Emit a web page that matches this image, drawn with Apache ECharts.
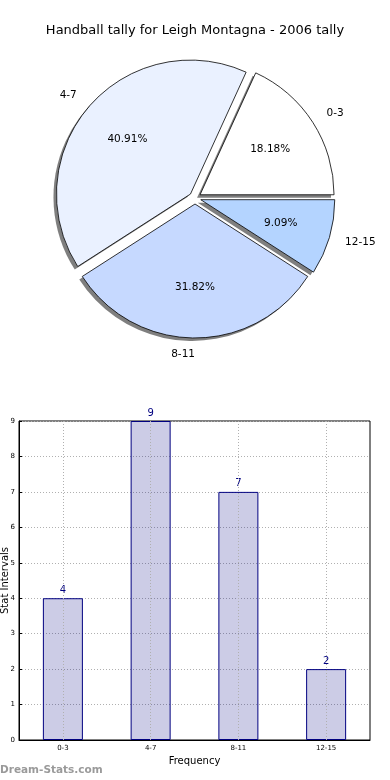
<!DOCTYPE html>
<html>
<head>
<meta charset="utf-8">
<script src="https://cdn.jsdelivr.net/npm/echarts@6/dist/echarts.min.js"></script>
<style>
html,body{margin:0;padding:0;background:#fff;}
#c{width:390px;height:780px;}
</style>
</head>
<body>
<div id="c"></div>
<script>
var categories = ['0-3', '4-7', '8-11', '12-15'];
var counts = [4, 9, 7, 2];
var sliceColors = ['#ffffff', '#eaf1ff', '#c6d9ff', '#b4d4ff'];
var yTicks = [0, 1, 2, 3, 4, 5, 6, 7, 8, 9];
var titleText = 'Handball tally for Leigh Montagna - 2006 tally';

var FONT = 'DejaVu Sans';
var PCX = 195, PCY = 198, PR = 134, OFF = 6;

function pieData(withColor) {
  return categories.map(function (c, i) {
    var d = { name: c, value: counts[i], selected: true };
    if (withColor) d.itemStyle = { color: sliceColors[i] };
    return d;
  });
}

function pieBase(center, radius) {
  return {
    type: 'pie', center: center, radius: radius,
    startAngle: 0, clockwise: false,
    selectedMode: 'multiple', selectedOffset: OFF,
    avoidLabelOverlap: false, silent: true,
    emphasis: { disabled: true },
    labelLine: { show: false }
  };
}

var shadowSeries = Object.assign(pieBase([PCX - 3, PCY + 3], PR), {
  itemStyle: { color: 'rgba(0,0,0,0.5)', borderWidth: 0 },
  label: { show: false },
  data: pieData(false)
});
var mainSeries = Object.assign(pieBase([PCX, PCY], PR), {
  itemStyle: { borderColor: '#000', borderWidth: 0.8 },
  label: { show: false },
  data: pieData(true)
});
var pctSeries = Object.assign(pieBase([PCX, PCY], [PR * 0.2, PR]), {
  itemStyle: { color: 'transparent', borderWidth: 0 },
  label: { show: true, position: 'inside', formatter: '{d}%', fontFamily: FONT, fontSize: 10.5, color: '#000' },
  data: pieData(false)
});
var nameSeries = Object.assign(pieBase([PCX, PCY], [PR, PR * 1.2]), {
  itemStyle: { color: 'transparent', borderWidth: 0 },
  label: { show: true, position: 'inside', formatter: '{b}', fontFamily: FONT, fontSize: 10.5, color: '#000' },
  labelLayout: function (p) {
    var cx = p.labelRect.x + p.labelRect.width / 2;
    return { dx: (cx >= PCX ? 1 : -1) * p.labelRect.width / 2 };
  },
  data: pieData(false)
});

var chart = echarts.init(document.getElementById('c'), null, { renderer: 'canvas' });
chart.setOption({
  animation: false,
  textStyle: { fontFamily: FONT },
  title: {
    text: titleText, left: 'center', top: 19,
    textStyle: { fontFamily: FONT, fontSize: 13, fontWeight: 'normal', color: '#000' }
  },
  graphic: [{
    type: 'text', left: 0, top: 765,
    style: { text: 'Dream-Stats.com', fill: '#9a9a9a', font: 'bold 10.5px "DejaVu Sans"' }
  }],
  grid: {
    left: 19, right: 20, top: 421, bottom: 40,
    containLabel: false, outerBoundsMode: 'none',
    show: true, borderColor: '#000', borderWidth: 1, backgroundColor: 'transparent'
  },
  xAxis: {
    type: 'category', data: categories,
    name: 'Frequency', nameLocation: 'middle', nameGap: 16, nameMoveOverlap: false,
    nameTextStyle: { fontFamily: FONT, fontSize: 10, color: '#000' },
    axisLine: { lineStyle: { color: '#000' } },
    axisTick: { show: false },
    axisLabel: { fontFamily: FONT, fontSize: 7, color: '#000', margin: 5 },
    splitLine: { show: false }
  },
  yAxis: {
    type: 'value', min: yTicks[0], max: yTicks[yTicks.length - 1], interval: 1,
    name: 'Stat Intervals', nameLocation: 'middle', nameGap: 9, nameRotate: 90, nameMoveOverlap: false,
    nameTextStyle: { fontFamily: FONT, fontSize: 10, color: '#000' },
    axisLine: { show: true, lineStyle: { color: '#000' } },
    axisTick: { show: true, inside: true, length: 3, lineStyle: { color: '#000' } },
    axisLabel: { fontFamily: FONT, fontSize: 7, color: '#000', margin: 4 },
    splitLine: { show: true, lineStyle: { color: '#b0b0b0', type: [1, 2], width: 1 } }
  },
  series: [
    shadowSeries, mainSeries, pctSeries, nameSeries,
    {
      type: 'bar', data: counts, barWidth: 40,
      itemStyle: { color: 'rgba(0,0,128,0.2)', borderColor: '#000080', borderWidth: 1 },
      label: { show: true, position: 'top', distance: 3, fontFamily: FONT, fontSize: 10, color: '#000080' },
      silent: true,
      markLine: {
        silent: true, symbol: 'none', label: { show: false },
        lineStyle: { color: '#b0b0b0', type: [1, 2], width: 1 },
        data: categories.map(function (c) { return { xAxis: c }; })
      }
    }
  ]
});
</script>
</body>
</html>
